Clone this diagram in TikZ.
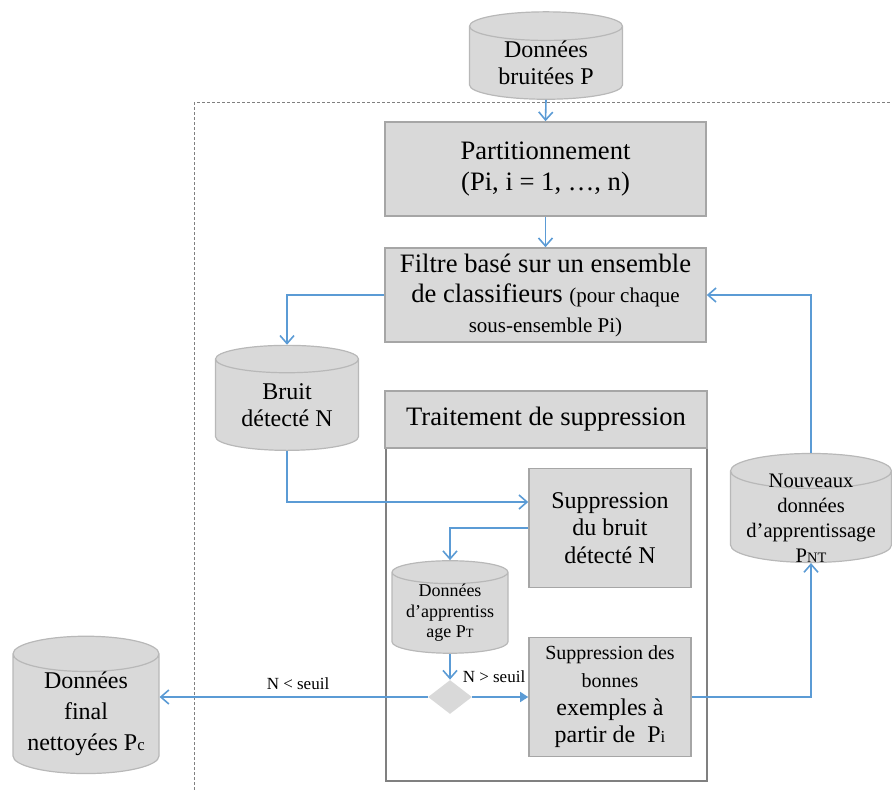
\documentclass[tikz,border=0pt]{standalone}
\usepackage{fontspec}
\setmainfont{Liberation Serif}
\usetikzlibrary{arrows.meta,shapes.geometric}
\definecolor{boxgray}{HTML}{D9D9D9}
\definecolor{linegray}{HTML}{A6A6A6}
\definecolor{flowblue}{HTML}{5B9BD5}
\newcommand{\idx}[1]{\scalebox{0.7}{#1}}
\newcommand{\fsz}[2]{\fontsize{#1}{#2}\selectfont}

\begin{document}
\begin{tikzpicture}[x=0.5pt,y=-0.5pt,
  box/.style={draw=linegray, fill=boxgray, line width=0.8pt, align=center, inner sep=2pt},
  base/.style={cylinder, shape border rotate=90, aspect=0.3, draw=linegray!80, fill=boxgray,
    line width=0.6pt, align=center, inner sep=0pt},
  flow/.style={draw=flowblue, line width=0.8pt, -{Straight Barb[length=4pt,width=7pt]}},
  cond/.style={font=\fsz{8.5}{10}, inner sep=1pt},
]
    \useasboundingbox (0,0) rectangle (892,790);

    % Dashed zone
    \draw[gray, dash pattern=on 1.5pt off 1pt, line width=0.5pt] (194,790) -- (194,103) -- (892,103);

    % Main column
    \node[base, minimum width=76.5pt, minimum height=38.5pt, font=\fsz{12}{13.5}] (donnees) at (546,63) {Données\\bruitées P};
    \node[box, minimum width=160.5pt, minimum height=47pt, font=\fsz{13.3}{15.5}] (part) at (545.5,169) {Partitionnement\\(Pi, i = 1, …, n)};
    \node[box, minimum width=160.5pt, minimum height=47pt, font=\fsz{13.3}{15}] (filtre) at (545.5,295)
        {Filtre basé sur un ensemble\\de classifieurs {\fsz{10.5}{14}(pour chaque}\\{\fsz{10.5}{14}sous-ensemble Pi)}};
    \node[base, minimum width=71.5pt, minimum height=52.5pt, font=\fsz{12}{13.5}] (bruit) at (287,405) {Bruit\\détecté N};

    % Suppression block
    \node[draw=gray, line width=0.8pt, minimum width=160.5pt, minimum height=166.5pt] (cadre) at (546.5,614.5) {};
    \node[box, minimum width=161pt, minimum height=28.5pt, font=\fsz{13.3}{15.5}] (trait) at (546,419.5) {Traitement de suppression};
    \node[box, minimum width=81pt, minimum height=59.5pt, font=\fsz{12}{13.8}] (supp) at (610,528) {Suppression\\du bruit\\détecté N};
    \node[base, aspect=0.26, minimum width=58pt, minimum height=41.5pt, font=\fsz{9}{10.3}] (appr) at (450,613)
        {Données\\d’apprentiss\\age P\idx{T}};
    \node[diamond, fill=boxgray, inner sep=0pt, minimum width=22pt, minimum height=17pt] (choix) at (450,697) {};
    \node[box, minimum width=81pt, minimum height=59.5pt, font=\fsz{12}{13.8}] (bonnes) at (610,697)
        {{\fsz{10}{12.5}Suppression des}\\{\fsz{10}{12.5}bonnes}\\exemples à\\partir de~ P\idx{i}};

    % Outputs
    \node[base, aspect=0.27, minimum width=80.5pt, minimum height=54.5pt, font=\fsz{10.3}{12.5}] (nouv) at (811,517)
        {\smash{\raisebox{-4pt}{\setlength{\tabcolsep}{0pt}\begin{tabular}{c}Nouveaux\\données\\d’apprentissage\\P\idx{NT}\end{tabular}}}};
    \node[base, minimum width=73pt, minimum height=63.5pt, font=\fsz{12}{15.5}] (final) at (86,714)
        {Données\\final\\nettoyées P\idx{c}};

    % Connectors
    \draw[flow] (donnees.south) -- (part.north);
    \draw[flow] (part.south) -- (filtre.north);
    \draw[flow] (filtre.west) -| (bruit.north);
    \draw[flow] (nouv.north) |- (filtre.east);
    \draw[flow] (bruit.south) |- ([yshift=13pt]supp.west);
    \draw[flow] (supp.west) -| (appr.north);
    \draw[flow] (appr.south) -- (choix.north);
    \draw[flow, -{Triangle[length=4pt,width=5pt]}] (choix.east) -- (bonnes.west);
    \draw[flow] (choix.west) -- (choix.west -| final.east);
    \draw[flow] (bonnes.east) -| (nouv.south);

    % Labels
    \node[cond] (sup) at (494,677) {N > seuil};
    \node[cond] (inf) at (298,684) {N < seuil};
\end{tikzpicture}
\end{document}
